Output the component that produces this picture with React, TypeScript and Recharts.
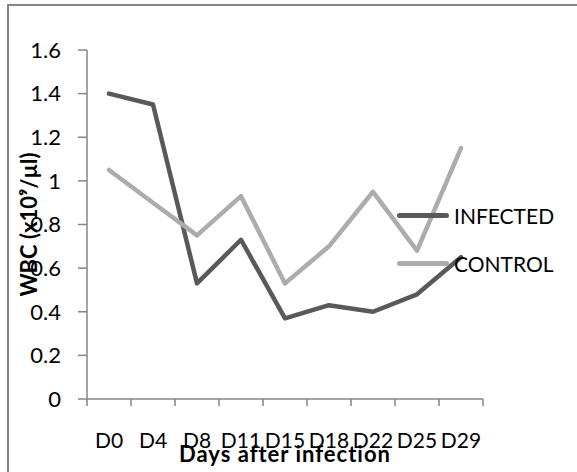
import { LineChart, Line, XAxis, YAxis, Legend, Label } from "recharts";

const days = ["D0", "D4", "D8", "D11", "D15", "D18", "D22", "D25", "D29"];
const infected = [1.4, 1.35, 0.53, 0.73, 0.37, 0.43, 0.4, 0.48, 0.65];
const control = [1.05, 0.9, 0.75, 0.93, 0.53, 0.7, 0.95, 0.68, 1.15];
const yTicks = [0, 0.2, 0.4, 0.6, 0.8, 1, 1.2, 1.4, 1.6];
const seriesOrder = ["INFECTED", "CONTROL"];

// points sit in the middle of each category slot, tick marks on the slot edges
const data = days.map((day, i) => ({
  slot: i + 0.5,
  day,
  infected: infected[i],
  control: control[i],
}));
const edgeTicks = days.map((_, i) => i).concat(days.length);
const centerTicks = days.map((_, i) => i + 0.5);

const font = "Lato, 'Open Sans', sans-serif";
const axisGray = "#868686";

function LegendBox(props: any) {
  const items = [...(props.payload || [])].sort(
    (a: any, b: any) => seriesOrder.indexOf(a.value) - seriesOrder.indexOf(b.value)
  );
  return (
    <div>
      {items.map((entry: any) => (
        <div
          key={entry.value}
          style={{ display: "flex", alignItems: "center", height: 48 }}
        >
          <span
            style={{
              display: "inline-block",
              width: 52,
              height: 5,
              borderRadius: 3,
              background: entry.color,
              marginRight: 5,
            }}
          />
          <span style={{ fontFamily: font, fontSize: 21, color: "#000" }}>
            {entry.value}
          </span>
        </div>
      ))}
    </div>
  );
}

export default function App() {
  return (
    <div
      style={{
        position: "absolute",
        left: 0,
        top: 0,
        width: 577,
        height: 472,
        overflow: "hidden",
        background: "#fff",
      }}
    >
      <div
        style={{
          position: "absolute",
          left: 7,
          top: 4,
          width: 640,
          height: 540,
          border: `2px solid ${axisGray}`,
        }}
      />
      <div style={{ position: "absolute", left: 0, top: 0 }}>
        <LineChart
          width={577}
          height={472}
          data={data}
          margin={{ top: 50, right: 94, left: 27, bottom: 0 }}
        >
          <XAxis
            xAxisId="edges"
            dataKey="slot"
            type="number"
            domain={[0, days.length]}
            ticks={edgeTicks}
            tickFormatter={() => ""}
            tickSize={7}
            height={8}
            axisLine={{ stroke: axisGray, strokeWidth: 1.5 }}
            tickLine={{ stroke: axisGray, strokeWidth: 1.5 }}
          />
          <XAxis
            xAxisId="labels"
            dataKey="slot"
            type="number"
            domain={[0, days.length]}
            ticks={centerTicks}
            interval={0}
            tickFormatter={(v: number) => days[Math.floor(v)]}
            axisLine={false}
            tickLine={false}
            tickSize={0}
            tickMargin={26}
            height={65}
            tick={{ fill: "#000", fontSize: 21, fontFamily: font }}
          >
            <Label
              content={({ viewBox }: any) => (
                <text
                  x={viewBox.x + viewBox.width / 2}
                  y={viewBox.y + viewBox.height - 10}
                  textAnchor="middle"
                  fontFamily={font}
                  fontWeight="bold"
                  fontSize={22}
                  letterSpacing={1}
                  fill="#000"
                >
                  Days after infection
                </text>
              )}
            />
          </XAxis>
          <YAxis
            width={60}
            domain={[0, 1.6]}
            ticks={yTicks}
            interval={0}
            tickFormatter={(v: number) => String(Number(v.toFixed(1)))}
            tickSize={9}
            tickMargin={17}
            axisLine={{ stroke: axisGray, strokeWidth: 1.5 }}
            tickLine={{ stroke: axisGray, strokeWidth: 1.5 }}
            tick={{ fill: "#000", fontSize: 22, fontFamily: font }}
          >
            <Label
              content={({ viewBox }: any) => {
                const cx = viewBox.x + 10;
                const cy = viewBox.y + viewBox.height / 2;
                return (
                  <text
                    x={cx}
                    y={cy}
                    transform={`rotate(-90, ${cx}, ${cy})`}
                    textAnchor="middle"
                    fontFamily={font}
                    fontWeight="bold"
                    fontSize={22}
                    fill="#000"
                  >
                    WBC (x10⁹/µl)
                  </text>
                );
              }}
            />
          </YAxis>
          <Line
            xAxisId="edges"
            type="linear"
            dataKey="infected"
            name="INFECTED"
            stroke="#595959"
            strokeWidth={4.5}
            strokeLinejoin="round"
            strokeLinecap="round"
            dot={false}
            isAnimationActive={false}
          />
          <Line
            xAxisId="edges"
            type="linear"
            dataKey="control"
            name="CONTROL"
            stroke="#acacac"
            strokeWidth={4.5}
            strokeLinejoin="round"
            strokeLinecap="round"
            dot={false}
            isAnimationActive={false}
          />
          <Legend
            layout="horizontal"
            verticalAlign="middle"
            align="center"
            content={<LegendBox />}
            wrapperStyle={{ left: 397, top: 191, width: 180, height: 96 }}
          />
        </LineChart>
      </div>
    </div>
  );
}
